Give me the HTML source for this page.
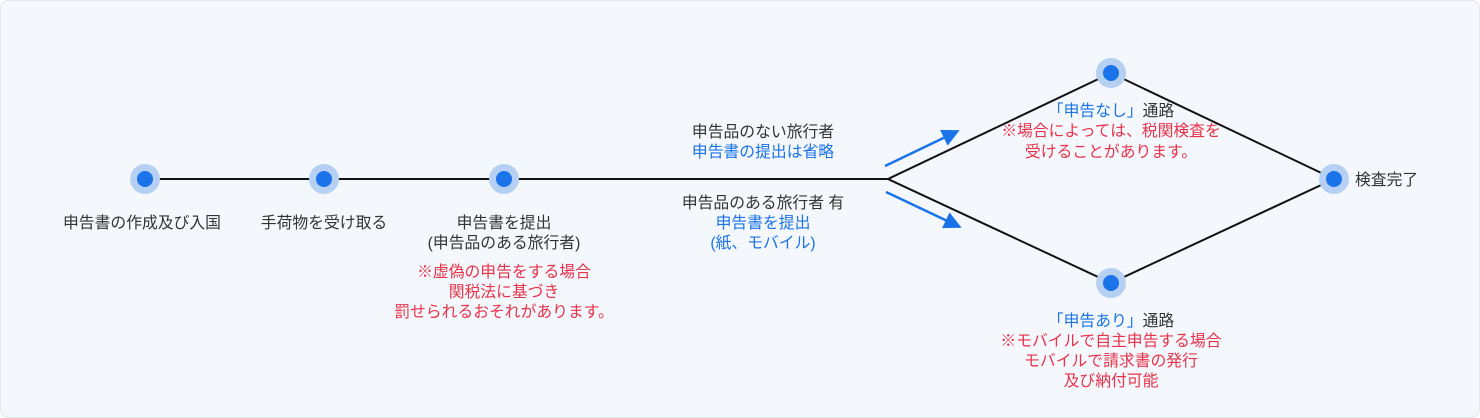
<!DOCTYPE html>
<html><head><meta charset="utf-8"><style>
html,body{margin:0;padding:0;background:#fff;}
svg{display:block;}
text{font-family:"Liberation Sans","Noto Sans CJK JP",sans-serif;font-size:15.8px;fill:#333;}
.b{fill:#1a73e8;}.r{fill:#e8334a;}
</style></head><body>
<svg width="1480" height="418" viewBox="0 0 1480 418">
<defs><marker id="a" viewBox="0 0 10 10" refX="9" refY="5" markerWidth="7" markerHeight="7" orient="auto"><path d="M0,0L10,5L0,10z" fill="#1a73e8"/></marker></defs>
<rect x="0.5" y="0.5" width="1479" height="417" rx="8" fill="#f4f7fb" stroke="#e3e7ec"/>
<g stroke="#111" stroke-width="2" fill="none">
<line x1="145" y1="179" x2="888" y2="179"/>
<polyline points="1111,73 888,179 1111,283 1334,179 1111,73"/>
</g>
<g stroke="#1a73e8" stroke-width="2.5" marker-end="url(#a)">
<line x1="885" y1="166" x2="958" y2="131"/>
<line x1="886" y1="192" x2="960" y2="227"/>
</g>
<g fill="#b5d0f3"><circle cx="145" cy="179" r="15"/><circle cx="324" cy="179" r="15"/><circle cx="504" cy="179" r="15"/><circle cx="1111" cy="73" r="15"/><circle cx="1111" cy="283" r="15"/><circle cx="1334" cy="179" r="15"/></g>
<g fill="#1a73e8"><circle cx="145" cy="179" r="8"/><circle cx="324" cy="179" r="8"/><circle cx="504" cy="179" r="8"/><circle cx="1111" cy="73" r="8"/><circle cx="1111" cy="283" r="8"/><circle cx="1334" cy="179" r="8"/></g>
<g text-anchor="middle">
<text x="142" y="228">申告書の作成及び入国</text>
<text x="324" y="228">手荷物を受け取る</text>
<text x="504" y="228">申告書を提出</text>
<text x="504" y="248">(申告品のある旅行者)</text>
<text class="r" x="504" y="277">※虚偽の申告をする場合</text>
<text class="r" x="504" y="297">関税法に基づき</text>
<text class="r" x="504" y="317">罰せられるおそれがあります。</text>
<text x="763" y="137">申告品のない旅行者</text>
<text class="b" x="763" y="157">申告書の提出は省略</text>
<text x="763" y="208">申告品のある旅行者 有</text>
<text class="b" x="763" y="228">申告書を提出</text>
<text class="b" x="763" y="248">(紙、モバイル)</text>
<text x="1111" y="116"><tspan class="b">「申告なし」</tspan>通路</text>
<text class="r" x="1111" y="136">※場合によっては、税関検査を</text>
<text class="r" x="1111" y="157">受けることがあります。</text>
<text x="1111" y="326"><tspan class="b">「申告あり」</tspan>通路</text>
<text class="r" x="1111" y="346">※モバイルで自主申告する場合</text>
<text class="r" x="1111" y="366">モバイルで請求書の発行</text>
<text class="r" x="1111" y="386">及び納付可能</text>
</g>
<text x="1355" y="185">検査完了</text>
</svg>
</body></html>
